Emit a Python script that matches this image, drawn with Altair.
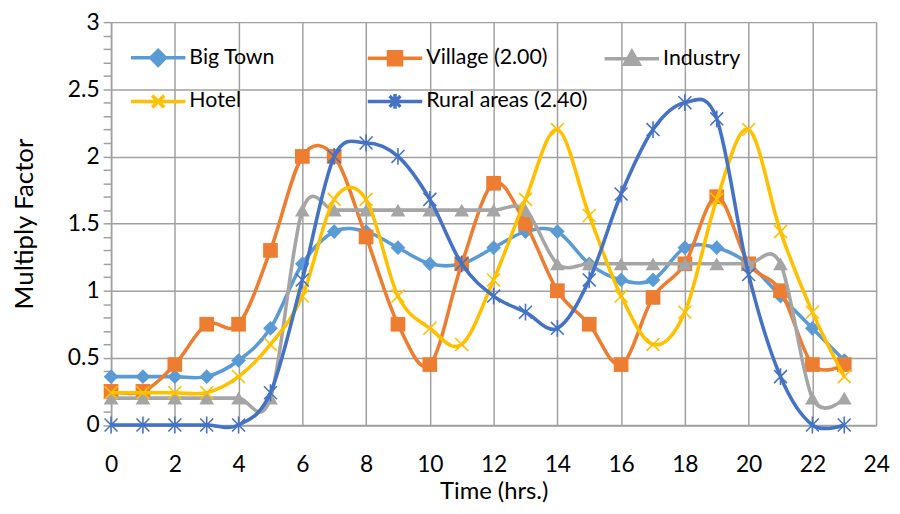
import altair as alt
import pandas as pd

# ---------------- data ----------------
hours = list(range(24))
series_names = ["Big Town", "Village (2.00)", "Industry", "Hotel", "Rural areas (2.40)"]
big_town = [0.36, 0.36, 0.36, 0.36, 0.48, 0.72, 1.2, 1.44, 1.44, 1.32, 1.2, 1.2,
            1.32, 1.44, 1.44, 1.2, 1.08, 1.08, 1.32, 1.32, 1.2, 0.96, 0.72, 0.48]
village = [0.25, 0.25, 0.45, 0.75, 0.75, 1.3, 2.0, 2.0, 1.4, 0.75, 0.45, 1.2,
           1.8, 1.5, 1.0, 0.75, 0.45, 0.95, 1.2, 1.7, 1.2, 1.0, 0.45, 0.45]
industry = [0.2, 0.2, 0.2, 0.2, 0.2, 0.2, 1.6, 1.6, 1.6, 1.6, 1.6, 1.6,
            1.6, 1.6, 1.2, 1.2, 1.2, 1.2, 1.2, 1.2, 1.2, 1.2, 0.2, 0.2]
hotel = [0.24, 0.24, 0.24, 0.24, 0.36, 0.6, 0.96, 1.68, 1.68, 0.96, 0.72, 0.6,
         1.08, 1.68, 2.2, 1.56, 0.96, 0.6, 0.84, 1.68, 2.2, 1.44, 0.84, 0.36]
rural = [0, 0, 0, 0, 0, 0.24, 1.08, 2.0, 2.1, 2.0, 1.68, 1.2,
         0.96, 0.84, 0.72, 1.08, 1.72, 2.2, 2.4, 2.28, 1.12, 0.36, 0, 0]
series_values = [big_town, village, industry, hotel, rural]

x_ticks = list(range(0, 25, 2))
y_ticks = [i / 10 for i in range(31)]

# ---------------- styles ----------------
colors = ["#5B9BD5", "#ED7D31", "#A5A5A5", "#FFC000", "#4472C4"]
X_PATH = "M-1,-1L1,1M-1,1L1,-1"
AST_PATH = "M-1,-1L1,1M-1,1L1,-1M0,-1.3V1.3"
marker_shapes = ["diamond", "square", "triangle-up", X_PATH, AST_PATH]
marker_filled = [True, True, True, False, False]
legend_paths = [
    "M-1,0H1M0,-0.27L0.27,0L0,0.27L-0.27,0Z",
    "M-1,0H1M-0.24,-0.24H0.24V0.24H-0.24Z",
    "M-1,0H1M0,-0.27L0.27,0.2H-0.27Z",
    "M-1,0H1M-0.22,-0.22L0.22,0.22M-0.22,0.22L0.22,-0.22",
    "M-1,0H1M-0.2,-0.2L0.2,0.2M-0.2,0.2L0.2,-0.2M0,-0.27V0.27",
]

FONT = "Lato"
GRID = "#A0A0A0"

rows = []
for name, vals in zip(series_names, series_values):
    for h, v in zip(hours, vals):
        rows.append({"hour": h, "value": v, "series": name})
df = pd.DataFrame(rows)

shape_expr = ""
for name, path in zip(series_names[:-1], legend_paths[:-1]):
    shape_expr += f"datum.value === '{name}' ? '{path}' : "
shape_expr += f"'{legend_paths[-1]}'"

legend = alt.Legend(
    title=None,
    orient="none",
    legendX=18,
    legendY=6.5,
    direction="horizontal",
    columns=3,
    gridAlign="all",
    columnPadding=10,
    rowPadding=-11,
    symbolSize=3025,
    symbolStrokeWidth=3.5,
    symbolType=alt.ExprRef(shape_expr),
    symbolFillColor=alt.ExprRef("scale('color', datum.value)"),
    symbolStrokeColor=alt.ExprRef("scale('color', datum.value)"),
    symbolOpacity=1,
    labelFont=FONT,
    labelFontSize=21.5,
    labelColor="#000000",
    labelOffset=2,
    labelLimit=300,
    padding=0,
)

major_test = "abs(datum.value * 2 - round(datum.value * 2)) < 0.000001"

x_enc = alt.X(
    "hour:Q",
    scale=alt.Scale(domain=[0, 24], nice=False, zero=False),
    axis=alt.Axis(
        values=x_ticks,
        title="Time (hrs.)",
        ticks=False,
        labelPadding=29,
        titlePadding=3,
        titleFontSize=24,
        labelFlush=False,
    ),
)
y_enc = alt.Y(
    "value:Q",
    scale=alt.Scale(domain=[0, 3], nice=False),
    axis=alt.Axis(
        values=y_ticks,
        title="Multiply Factor",
        labelExpr=f"{major_test} ? format(datum.value, '~g') : ''",
        labelOverlap=False,
        gridOpacity={"condition": {"test": major_test, "value": 1}, "value": 0},
        tickSize=8,
        labelPadding=4,
        titlePadding=30,
        titleFontSize=26,
    ),
)
color_scale = alt.Scale(domain=series_names, range=colors)

layers = []
for i, name in enumerate(series_names):
    base = alt.Chart(df).transform_filter(alt.datum.series == name)
    line = base.mark_line(
        interpolate="cardinal", tension=0, strokeWidth=3.6
    ).encode(
        x=x_enc, y=y_enc,
        color=alt.Color("series:N", scale=color_scale, legend=legend),
    )
    if marker_filled[i]:
        pts = base.mark_point(shape=marker_shapes[i], filled=True, size=220, opacity=1)
    else:
        pts = base.mark_point(shape=marker_shapes[i], filled=False, size=170,
                              strokeWidth=1.6, opacity=1)
    pts = pts.encode(
        x=x_enc, y=y_enc,
        color=alt.Color("series:N", scale=color_scale, legend=legend),
    )
    layers += [line, pts]

chart = (
    alt.layer(*layers)
    .properties(
        width=772,
        height=406.5,
        autosize=alt.AutoSizeParams(type="none"),
        padding={"left": 104, "top": 12, "right": 16, "bottom": 79.5},
        background="white",
    )
    .configure_view(stroke=None)
    .configure_axis(
        labelFont=FONT,
        labelFontSize=23,
        labelColor="#000000",
        titleFont=FONT,
        titleFontWeight="normal",
        titleColor="#000000",
        gridColor=GRID,
        gridWidth=1.5,
        domainColor=GRID,
        domainWidth=1.5,
        tickColor=GRID,
        tickWidth=1.5,
    )
)

chart.save("out.html", embed_options={"renderer": "svg", "actions": False})
